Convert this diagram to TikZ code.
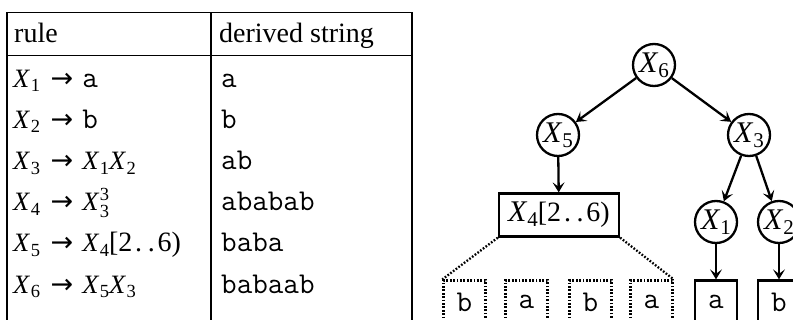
\documentclass[tikz,border=0pt]{standalone}
\usepackage{fontspec}
\setmainfont{Liberation Serif}
\setmonofont[Scale=1.08]{Latin Modern Mono}
\newfontfamily\arrfont{DejaVu Sans}
\usetikzlibrary{arrows.meta}
% table math
\newcommand\tsub[1]{{\fontsize{18.5}{18.5}\selectfont #1}}
\newcommand\TX[1]{{\fontsize{26.5}{30}\selectfont\itshape X}\kern0.05em\raisebox{-4.5pt}{\tsub{#1}}}
\newcommand\TXp[2]{{\fontsize{26.5}{30}\selectfont\itshape X}\kern0.05em\rlap{\raisebox{10.5pt}{\tsub{#2}}}\raisebox{-6.5pt}{\tsub{#1}}}
% tree math
\newcommand\subsz[1]{{\fontsize{21}{21}\selectfont #1}}
\newcommand\VX[1]{{\fontsize{30}{34}\selectfont\itshape X}\kern0.03em\raisebox{-5pt}{\subsz{#1}}}
\newcommand\ARR{\kern0.38em{\arrfont\fontsize{27}{27}\selectfont →}\kern0.32em}
\newcommand\RNG{[2\kern0.1em.\kern0.2em.\kern0.1em6)}
\begin{document}
\begin{tikzpicture}[x=1pt,y=-1pt,
  font=\fontsize{28}{33}\selectfont,
  tbl/.style={line width=1.1pt},
  cell/.style={anchor=base west,inner sep=0pt},
  vc/.style={circle,draw,line width=2.3pt,minimum size=42pt,inner sep=0pt},
  vbox/.style={rectangle,draw,line width=2.3pt,minimum width=42pt,minimum height=43pt,inner sep=0pt},
  dbox/.style={rectangle,draw,line width=2.3pt,dash pattern=on 1.7pt off 1.7pt,minimum width=42pt,minimum height=43pt,inner sep=0pt},
  edge/.style={line width=2.3pt,-{Stealth[length=10pt,width=12pt,inset=4.5pt]}},
  dline/.style={line width=2.3pt,dash pattern=on 1.7pt off 1.7pt}]
\clip (0,0) rectangle (793,320);
\fill[white] (0,0) rectangle (793,320);
% table
\draw[tbl] (7,12.5) rectangle (412,340);
\draw[tbl] (7,55.5) -- (412,55.5);
\draw[tbl] (211,12.5) -- (211,340);
\node[cell] (h1) at (14,43) {rule};
\node[cell] (h2) at (219,43) {derived string};
\node[cell] (r1) at (13,87.5) {\TX{1}\ARR\texttt{a}};
\node[cell] (r2) at (13,128.5) {\TX{2}\ARR\texttt{b}};
\node[cell] (r3) at (13,170) {\TX{3}\ARR\TX{1}\TX{2}};
\node[cell] (r4) at (13,211) {\TX{4}\ARR\TXp{3}{3}};
\node[cell] (r5) at (13,252) {\TX{5}\ARR\TX{4}\RNG};
\node[cell] (r6) at (13,293.5) {\TX{6}\ARR\TX{5}\TX{3}};
\node[cell] (s1) at (221,87.5) {\texttt{a}};
\node[cell] (s2) at (221,128.5) {\texttt{b}};
\node[cell] (s3) at (221,170) {\texttt{ab}};
\node[cell] (s4) at (221,211) {\texttt{ababab}};
\node[cell] (s5) at (221,252) {\texttt{baba}};
\node[cell] (s6) at (221,293.5) {\texttt{babaab}};
% tree
\node[vc] (x6) at (654,65) {\VX{6}};
\node[vc] (x5) at (558,135) {\VX{5}};
\node[vc] (x3) at (749,135) {\VX{3}};
\node[vbox,minimum width=120pt] (x4) at (559,215) {\VX{4}\RNG};
\node[vc] (x1) at (716,222) {\VX{1}};
\node[vc] (x2) at (779,222) {\VX{2}};
\node[vbox] (la) at (716,302) {\texttt{a}};
\node[vbox] (lb) at (779,302) {\texttt{b}};
\node[dbox] (d1) at (464.5,302) {\texttt{b}};
\node[dbox] (d2) at (526.5,302) {\texttt{a}};
\node[dbox] (d3) at (590.5,302) {\texttt{b}};
\node[dbox] (d4) at (651.5,302) {\texttt{a}};
\draw[edge] (x6) -- (x5);
\draw[edge] (x6) -- (x3);
\draw[edge] (x5) -- (x4);
\draw[edge] (x3) -- (x1);
\draw[edge] (x3) -- (x2);
\draw[edge] (x1) -- (la);
\draw[edge] (x2) -- (lb);
\draw[dline] (x4.south west) -- (d1.north west);
\draw[dline] (x4.south east) -- (d4.north east);
\end{tikzpicture}
\end{document}
